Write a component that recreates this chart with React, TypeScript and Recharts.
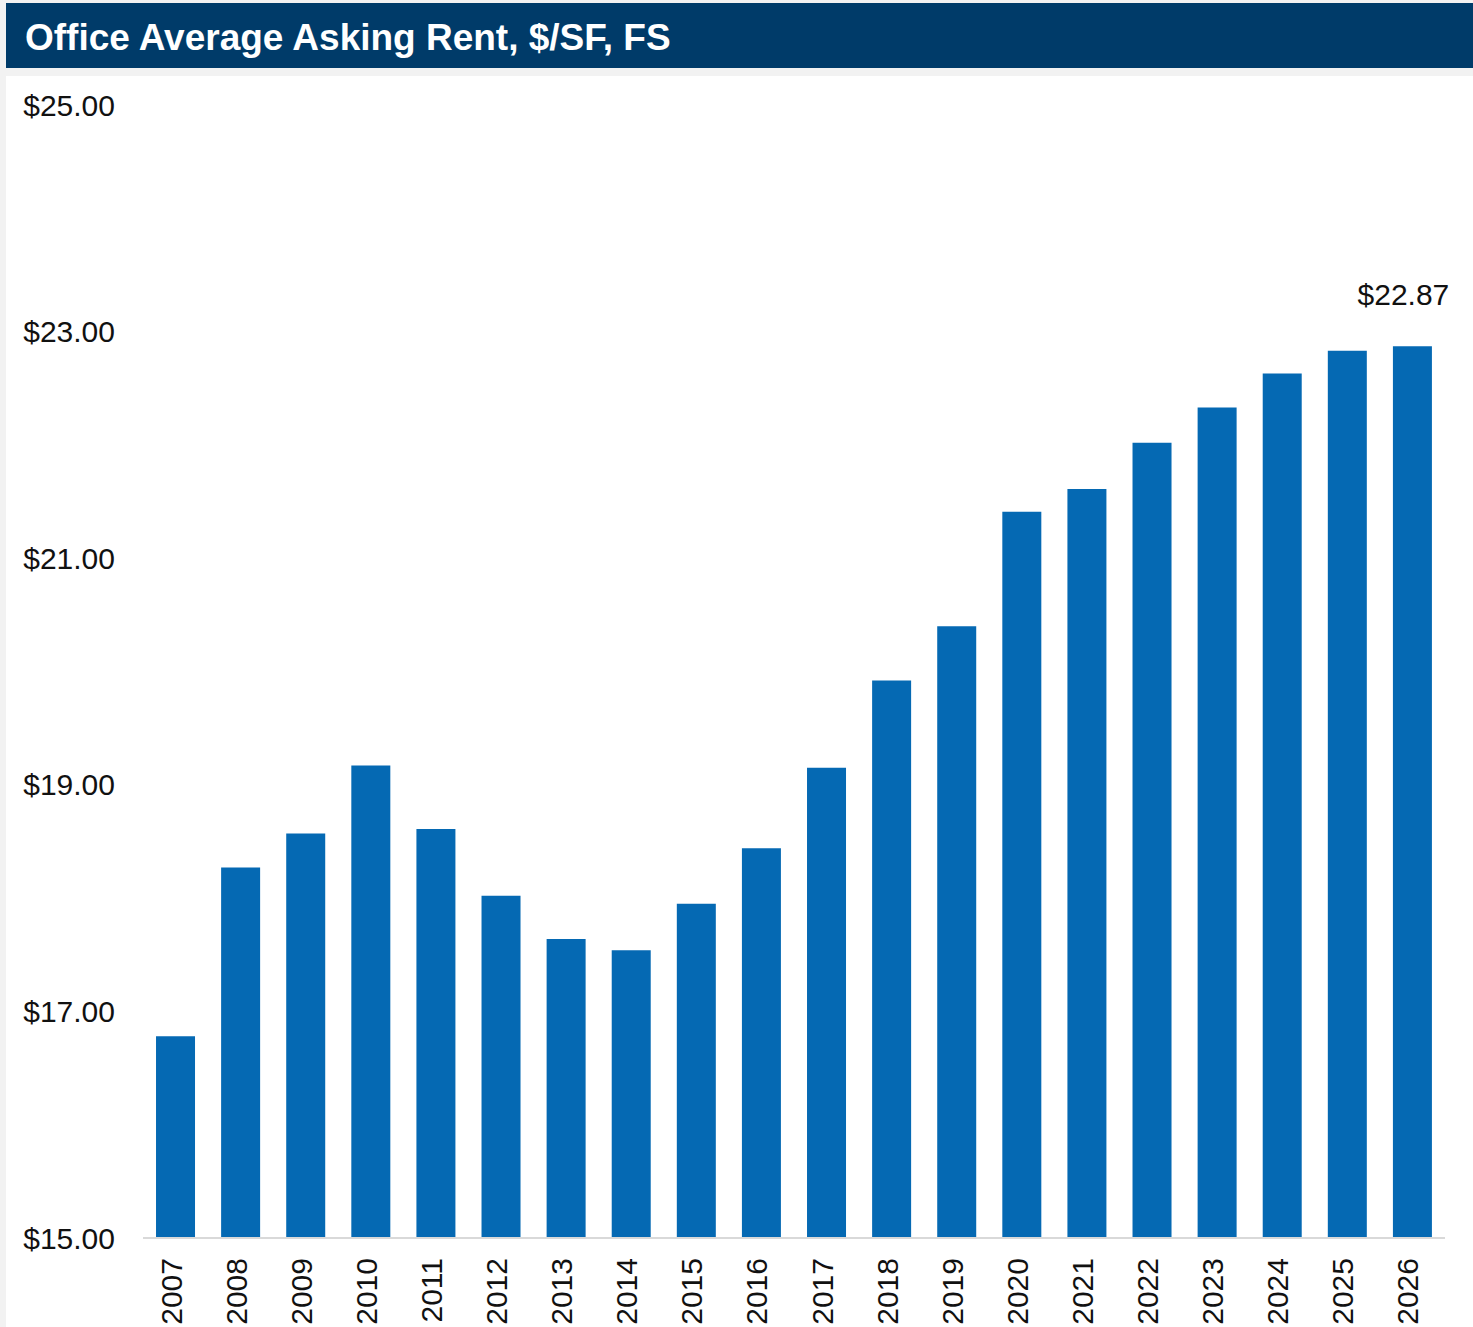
import React from 'react';
import { BarChart, Bar, XAxis, YAxis, LabelList } from 'recharts';

const years = ['2007', '2008', '2009', '2010', '2011', '2012', '2013', '2014', '2015', '2016',
  '2017', '2018', '2019', '2020', '2021', '2022', '2023', '2024', '2025', '2026'];
const rents = [16.78, 18.27, 18.57, 19.17, 18.61, 18.02, 17.64, 17.54, 17.95, 18.44,
  19.15, 19.92, 20.40, 21.41, 21.61, 22.02, 22.33, 22.63, 22.83, 22.87];
const yTicks = [15, 17, 19, 21, 23, 25];

const data = years.map((year, i) => ({ year, rent: rents[i] }));

const FONT = '"Liberation Sans", Arial, sans-serif';
const fmt = (v: number) => `$${v.toFixed(2)}`;

const YearTick = ({ x, y, payload }: any) => (
  <g transform={`translate(${x},${y})`}>
    <text transform="rotate(-90)" textAnchor="end" dy={6} fontSize={30} fontFamily={FONT} fill="#111">
      {payload.value}
    </text>
  </g>
);

const LastLabel = (props: any) => {
  const { x, y, width, value, index } = props;
  if (index !== rents.length - 1) return null;
  return (
    <text x={x + width / 2 - 9} y={y - 41} textAnchor="middle" fontSize={30} fontFamily={FONT} fill="#111">
      {fmt(value)}
    </text>
  );
};

const App: React.FC = () => {
  return (
    <div style={{ position: 'absolute', left: 0, top: 0, width: 1473, height: 1327, background: '#f2f2f2', overflow: 'hidden' }}>
      <div
        style={{
          position: 'absolute', left: 6, top: 3, width: 1467, height: 65, background: '#003b69',
          color: '#fff', fontFamily: FONT, fontWeight: 'bold', fontSize: 37, lineHeight: '70px', paddingLeft: 19, boxSizing: 'border-box',
          whiteSpace: 'nowrap',
        }}
      >
        Office Average Asking Rent, $/SF, FS
      </div>
      <div style={{ position: 'absolute', left: 6, top: 76, width: 1467, height: 1251, background: '#fff' }}>
        <BarChart width={1467} height={1251} data={data} margin={{ top: 29, right: 28, left: 0, bottom: 0 }} barCategoryGap="20%">
          <XAxis
            dataKey="year"
            interval={0}
            height={89}
            tickLine={false}
            tickMargin={14}
            axisLine={{ stroke: '#d9d9d9', strokeWidth: 2 }}
            tick={<YearTick />}
          />
          <YAxis
            domain={[15, 25]}
            ticks={yTicks}
            width={137}
            axisLine={false}
            tickLine={false}
            tickMargin={22}
            tickFormatter={fmt}
            tick={{ fontSize: 30, fontFamily: FONT, fill: '#111' }}
          />
          <Bar dataKey="rent" fill="#0569b3" isAnimationActive={false}>
            <LabelList dataKey="rent" content={<LastLabel />} />
          </Bar>
        </BarChart>
      </div>
    </div>
  );
};

export default App;
